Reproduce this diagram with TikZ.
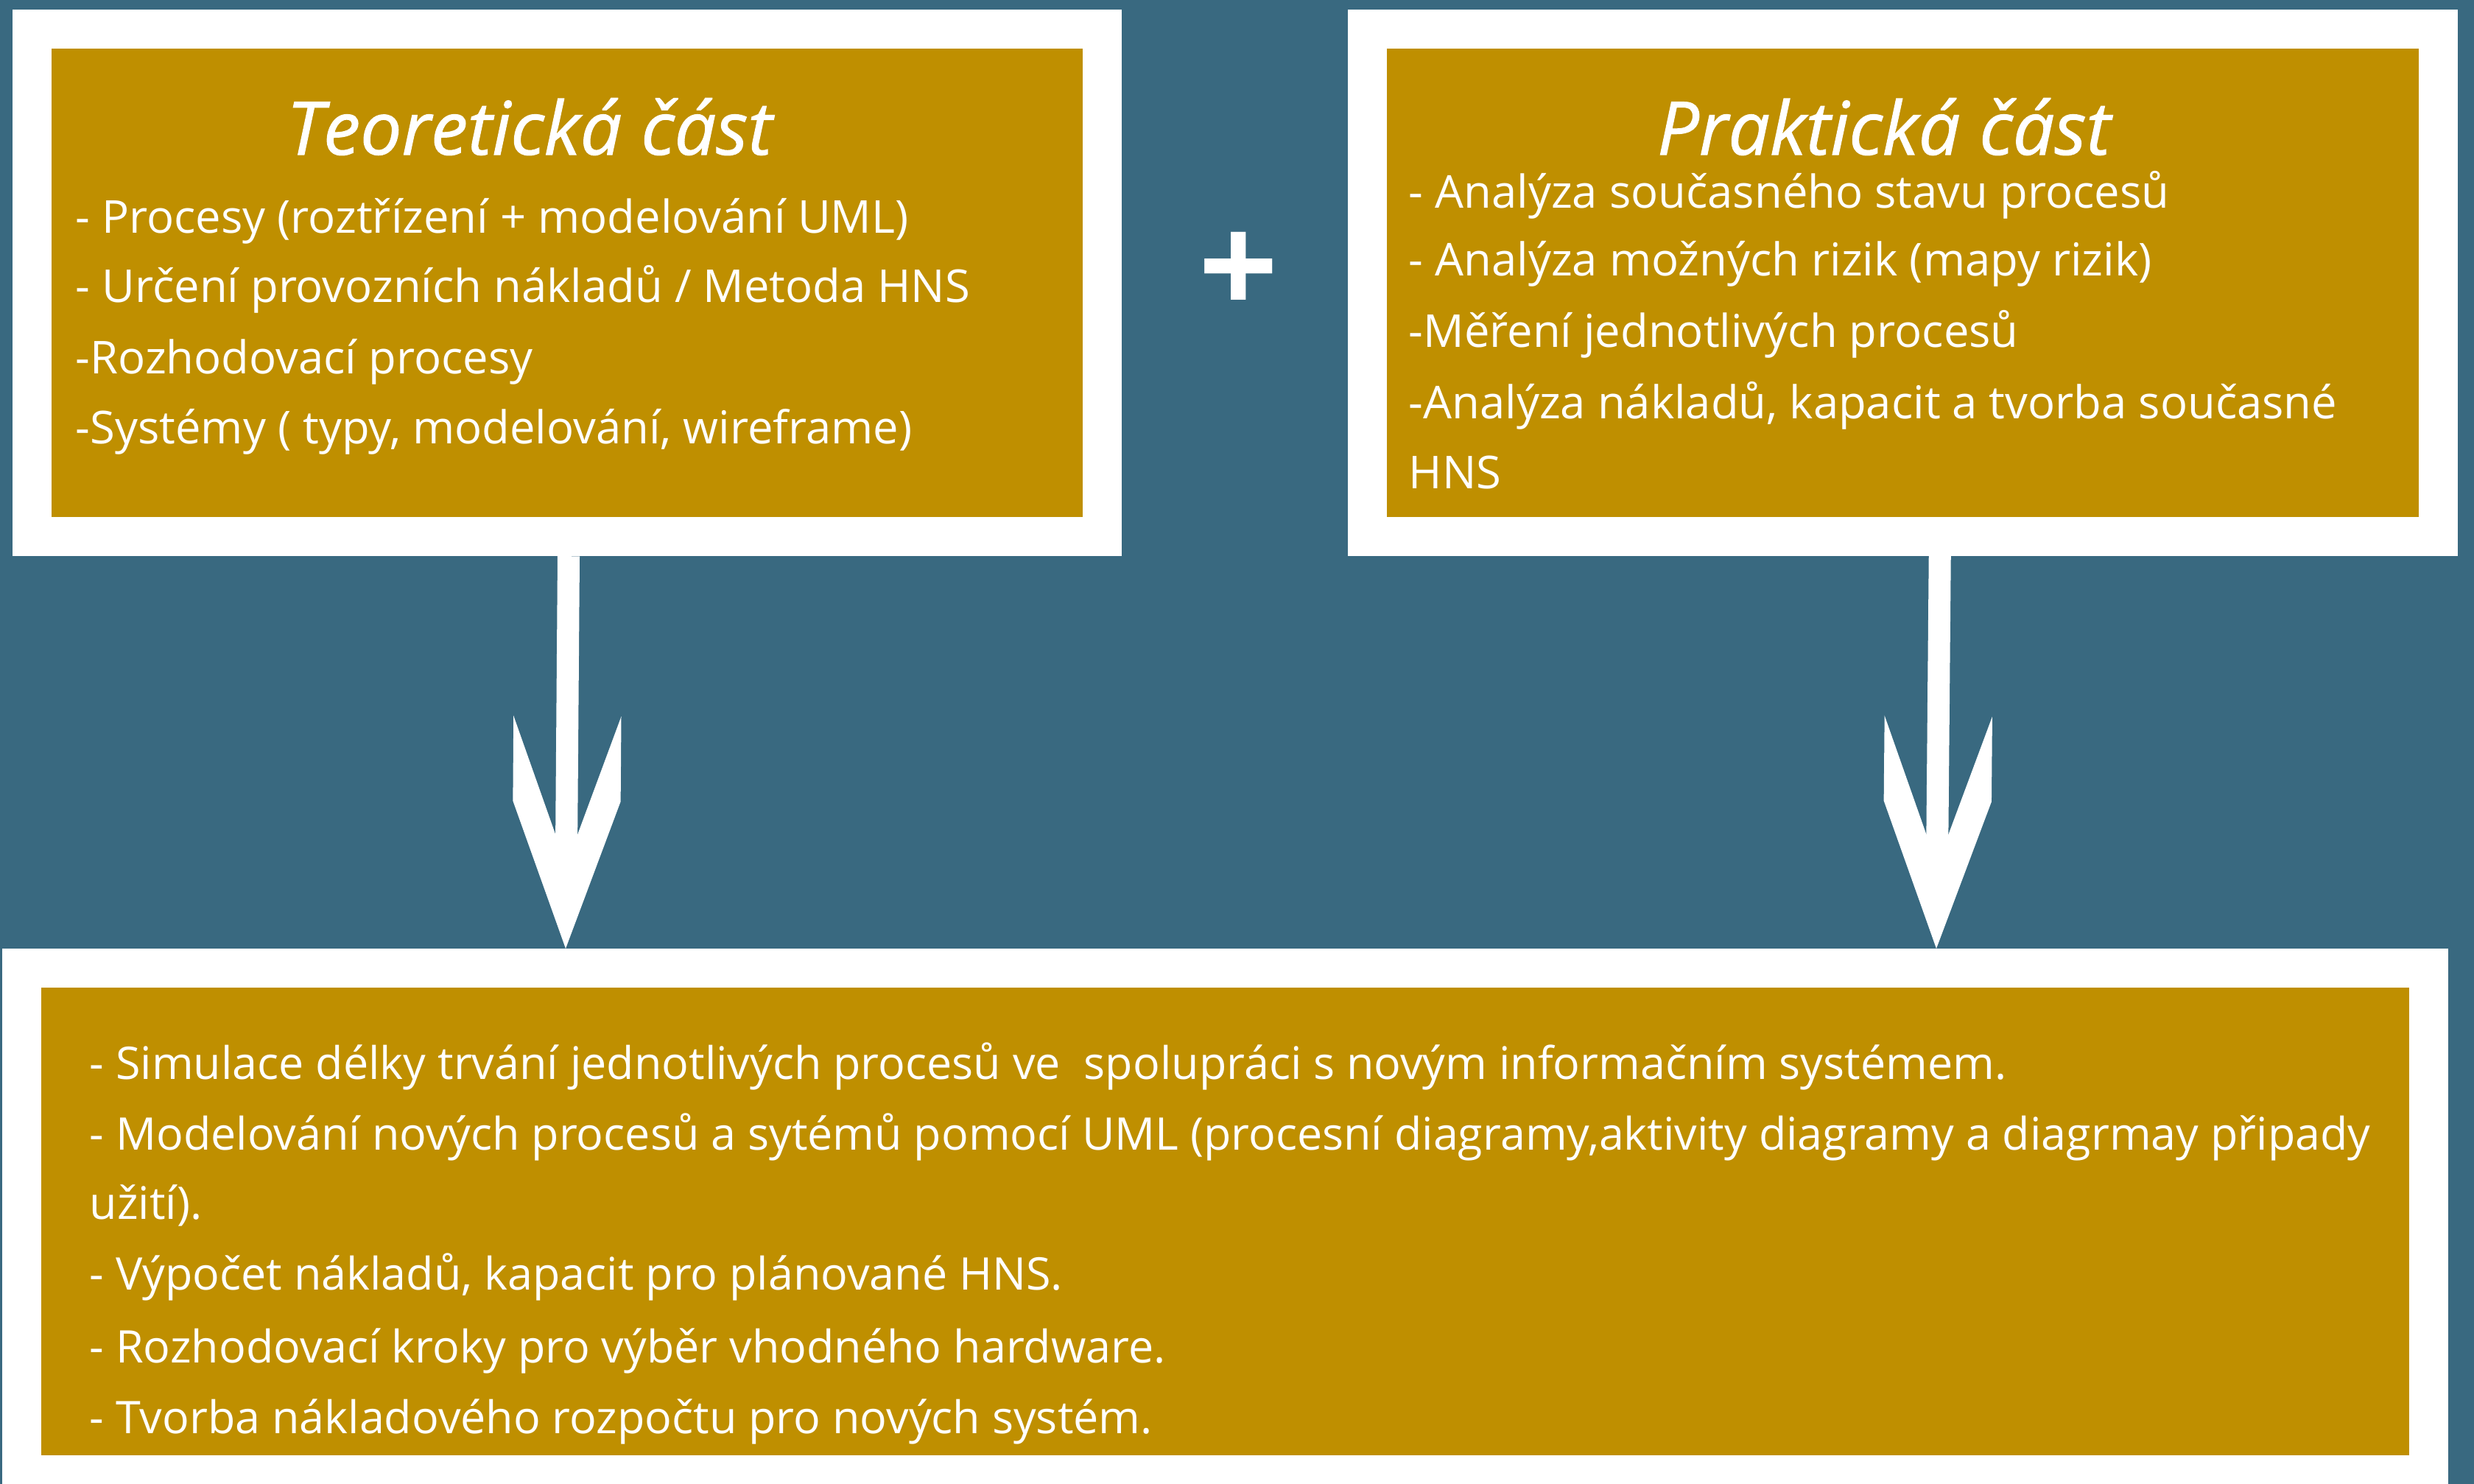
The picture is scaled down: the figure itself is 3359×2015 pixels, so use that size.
\documentclass[tikz,border=0pt]{standalone}
\usepackage{fontspec}
\setmainfont{Open Sans}
\newfontfamily\titlefont[FakeBold=1]{Open Sans}

\definecolor{bgteal}{RGB}{57,105,128}
\definecolor{gold}{RGB}{191,143,0}

% open chevron head for the two big arrows
\pgfdeclarearrow{
  name = Chevron,
  setup code = {
    \pgfarrowssettipend{0pt}
    \pgfarrowssetlineend{-40pt}
    \pgfarrowssetvisualbackend{-89.8pt}
    \pgfarrowssetbackend{-89.8pt}
    \pgfarrowshullpoint{0pt}{0pt}
    \pgfarrowsupperhullpoint{-89.8pt}{20.8pt}
  },
  drawing code = {
    \pgfpathmoveto{\pgfpoint{0pt}{0pt}}
    \pgfpathlineto{\pgfpoint{-56.9pt}{20.8pt}}
    \pgfpathlineto{\pgfpoint{-89.8pt}{20.8pt}}
    \pgfpathlineto{\pgfpoint{-44.1pt}{4.27pt}}
    \pgfpathlineto{\pgfpoint{-44.1pt}{-4.27pt}}
    \pgfpathlineto{\pgfpoint{-89.8pt}{-20.8pt}}
    \pgfpathlineto{\pgfpoint{-56.9pt}{-20.8pt}}
    \pgfpathclose
    \pgfusepathqfill
  }
}

\tikzset{
  box/.style={draw=white, fill=gold, line width=0.53cm, inner sep=0pt},
  title/.style={anchor=base, text=white, inner sep=0pt,
    font=\fontsize{28.5}{32}\selectfont\titlefont\itshape},
  txt/.style={anchor=base west, text=white, inner sep=0pt,
    font=\fontsize{17.5}{21}\selectfont},
  txtb/.style={txt, font=\fontsize{17.35}{21}\selectfont},
  flow/.style={white, line width=0.3cm, -Chevron},
}

\begin{document}
\begin{tikzpicture}[x=0.01cm, y=-0.01cm]
    \fill[bgteal] (0,0) rectangle (3359,2015);
    \useasboundingbox (0,0) rectangle (3359,2015);

    % boxes
    \node[box, minimum width=14.53cm,  minimum height=6.885cm] (teo)  at ( 770,    384.25) {};
    \node[box, minimum width=14.535cm, minimum height=6.885cm] (prak) at (2583.25, 384.25) {};
    \node[box, minimum width=32.665cm, minimum height=6.875cm] (vysl) at (1663.25,1658.75) {};

    \node[text=white, font=\fontsize{54}{60}\selectfont\bfseries] (plus) at (1682, 372) {+};

    % Teoreticka cast
    \node[title] (teoT) at ( 719, 210) {Teoretická část};
    \node[txt]   (teo1) at ( 102, 316) {- Procesy (roztřízení + modelování UML)};
    \node[txt]   (teo2) at ( 102, 410) {- Určení provozních nákladů / Metoda HNS};
    \node[txt]   (teo3) at ( 102, 507) {-Rozhodovací procesy};
    \node[txt]   (teo4) at ( 102, 602) {-Systémy ( typy, modelování, wireframe)};

    % Prakticka cast
    \node[title] (prakT) at (2558, 210) {Praktická část};
    \node[txt]   (prak1) at (1912, 282) {- Analýza současného stavu procesů};
    \node[txt]   (prak2) at (1912, 374) {- Analýza možných rizik (mapy rizik)};
    \node[txt]   (prak3) at (1912, 471) {-Měření jednotlivých procesů};
    \node[txt]   (prak4) at (1912, 568) {-Analýza nákladů, kapacit a tvorba současné};
    \node[txt]   (prak5) at (1912, 663) {HNS};

    % vysledek
    \node[txtb] (vysl1) at (121, 1465) {- Simulace délky trvání jednotlivých procesů ve \ spolupráci s novým informačním systémem.};
    \node[txtb] (vysl2) at (121, 1561) {- Modelování nových procesů a sytémů pomocí UML (procesní diagramy,aktivity diagramy a diagrmay připady};
    \node[txtb] (vysl3) at (121, 1655) {užití).};
    \node[txtb] (vysl4) at (121, 1751) {- Výpočet nákladů, kapacit pro plánované HNS.};
    \node[txtb] (vysl5) at (121, 1850) {- Rozhodovací kroky pro výběr vhodného hardware.};
    \node[txtb] (vysl6) at (121, 1946) {- Tvorba nákladového rozpočtu pro nových systém.};

    % arrows
    \coordinate (teoTip)  at ( 768, 1288);
    \coordinate (prakOut) at (2634,  728.5);
    \coordinate (prakTip) at (2629, 1288);
    \draw[flow] ([xshift=0.02cm]teo.south) -- (teoTip);
    \draw[flow] (prakOut) -- (prakTip);
\end{tikzpicture}
\end{document}
